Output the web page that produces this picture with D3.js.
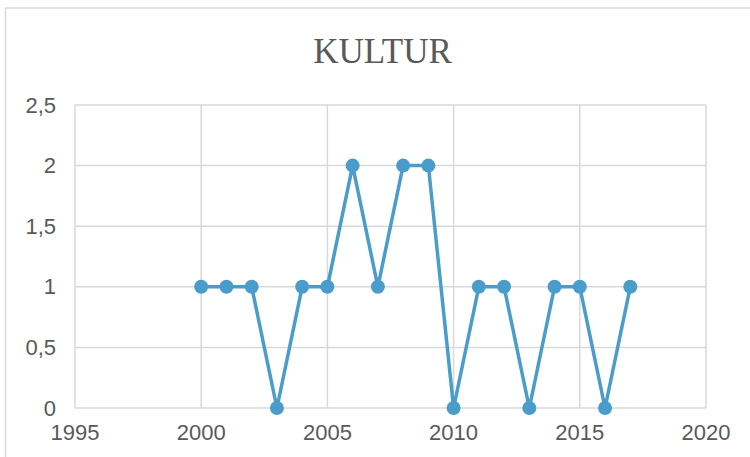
<!DOCTYPE html>
<html>
<head>
<meta charset="utf-8">
<script src="https://cdn.jsdelivr.net/npm/d3@7"></script>
<style>
	body { margin: 0; background: #fff; }
	svg { display: block; }
</style>
</head>
<body>
<svg id="chart" width="750" height="457"></svg>
<script>
var years = [2000, 2001, 2002, 2003, 2004, 2005, 2006, 2007, 2008, 2009, 2010, 2011, 2012, 2013, 2014, 2015, 2016, 2017];
var values = [1, 1, 1, 0, 1, 1, 2, 1, 2, 2, 0, 1, 1, 0, 1, 1, 0, 1];
var xTicks = [1995, 2000, 2005, 2010, 2015, 2020];
var yTicks = [0, 0.5, 1, 1.5, 2, 2.5];
var title = "KULTUR";

var svg = d3.select("#chart");

var plotLeft = 75, plotRight = 706, plotTop = 105, plotBottom = 408;
var gridColor = "#d9d9d9", textColor = "#595959", lineColor = "#4a9dcb";

//outer chart border (cropped on right and bottom)
svg.append("rect")
	.attr("x", 5.5).attr("y", 8)
	.attr("width", 760).attr("height", 460)
	.attr("fill", "none")
	.attr("stroke", gridColor)
	.attr("stroke-width", 1.5);

var x = d3.scaleLinear().domain([1995, 2020]).range([plotLeft, plotRight]);
var y = d3.scaleLinear().domain([0, 2.5]).range([plotBottom, plotTop]);

var fmt = function(d) { return String(d).replace(".", ","); };

//gridlines
svg.append("g").selectAll("line").data(yTicks).enter().append("line")
	.attr("x1", plotLeft).attr("x2", plotRight)
	.attr("y1", function(d) { return y(d); })
	.attr("y2", function(d) { return y(d); })
	.attr("stroke", gridColor).attr("stroke-width", 1.5);

svg.append("g").selectAll("line").data(xTicks).enter().append("line")
	.attr("y1", plotTop).attr("y2", plotBottom)
	.attr("x1", function(d) { return x(d); })
	.attr("x2", function(d) { return x(d); })
	.attr("stroke", gridColor).attr("stroke-width", 1.5);

//tick labels
svg.append("g").selectAll("text").data(yTicks).enter().append("text")
	.attr("x", plotLeft - 19)
	.attr("y", function(d) { return y(d) + 7.5; })
	.attr("text-anchor", "end")
	.attr("font-family", "Liberation Sans, Arial, sans-serif")
	.attr("font-size", 22)
	.attr("fill", textColor)
	.text(fmt);

svg.append("g").selectAll("text").data(xTicks).enter().append("text")
	.attr("x", function(d) { return x(d); })
	.attr("y", plotBottom + 32)
	.attr("text-anchor", "middle")
	.attr("font-family", "Liberation Sans, Arial, sans-serif")
	.attr("font-size", 22)
	.attr("fill", textColor)
	.text(function(d) { return d; });

//title
svg.append("text")
	.attr("x", (plotLeft + plotRight) / 2 - 8)
	.attr("y", 63)
	.attr("text-anchor", "middle")
	.attr("font-family", "Liberation Serif, Times New Roman, serif")
	.attr("font-size", 35)
	.attr("fill", textColor)
	.text(title);

var data = years.map(function(d, i) { return [d, values[i]]; });

var line = d3.line()
	.x(function(d) { return x(d[0]); })
	.y(function(d) { return y(d[1]); });

svg.append("path").datum(data)
	.attr("d", line)
	.attr("fill", "none")
	.attr("stroke", lineColor)
	.attr("stroke-width", 3.5)
	.attr("stroke-linejoin", "round");

svg.append("g").selectAll("circle").data(data).enter().append("circle")
	.attr("cx", function(d) { return x(d[0]); })
	.attr("cy", function(d) { return y(d[1]); })
	.attr("r", 7)
	.attr("fill", lineColor);
</script>
</body>
</html>
